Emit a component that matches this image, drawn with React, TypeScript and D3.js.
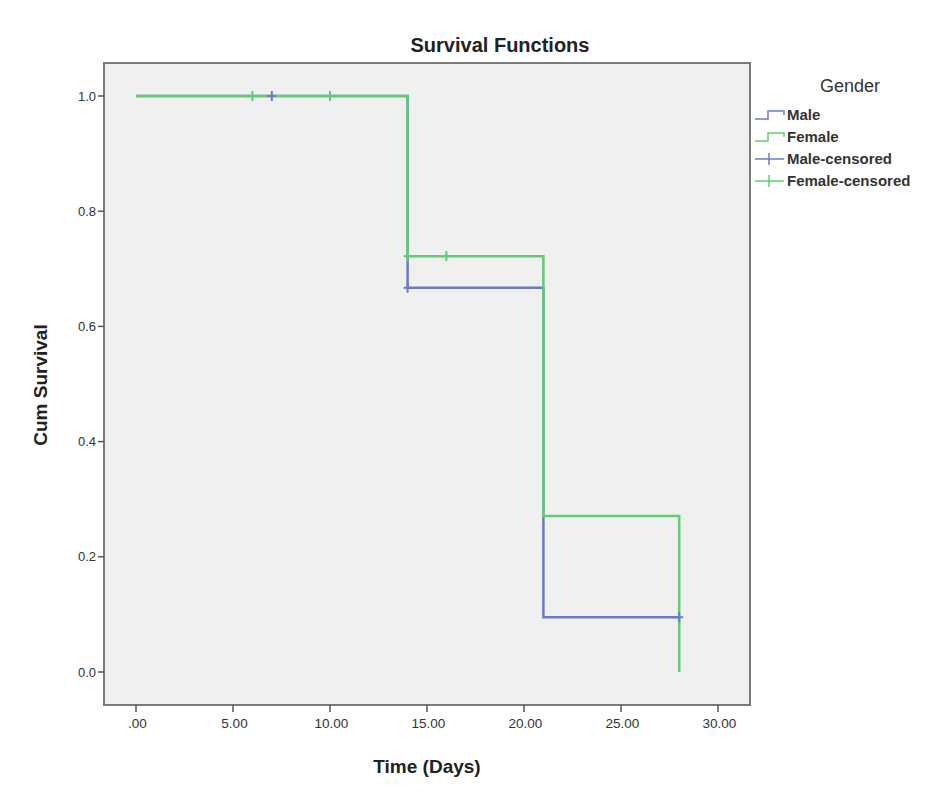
import * as d3 from "d3"

// Kaplan-Meier steps: [time, survival after that time]
const maleSteps: [number, number][] = [
  [0, 1.0],
  [14, 0.667],
  [21, 0.095],
  [28, 0.095],
]
const femaleSteps: [number, number][] = [
  [0, 1.0],
  [14, 0.722],
  [21, 0.271],
  [28, 0.0],
]
const maleCensored: [number, number][] = [
  [7, 1.0],
  [14, 0.667],
  [28, 0.095],
]
const femaleCensored: [number, number][] = [
  [6, 1.0],
  [10, 1.0],
  [14, 0.722],
  [16, 0.722],
]
const xTicks = [0, 5, 10, 15, 20, 25, 30]
const yTicks = [0, 0.2, 0.4, 0.6, 0.8, 1.0]
const legendItems = ["Male", "Female", "Male-censored", "Female-censored"]

const MALE = "#6a7bc9"
const FEMALE = "#62cc74"
const FONT = "'Liberation Sans', Arial, sans-serif"

const frame = { left: 104, top: 63, right: 750, bottom: 705 }

const x = d3.scaleLinear().domain([0, 30]).range([136, 718])
const y = d3.scaleLinear().domain([0, 1]).range([672, 96])

function stepPath(steps: [number, number][]) {
  const line = d3
    .line<[number, number]>()
    .x((d) => x(d[0]))
    .y((d) => y(d[1]))
    .curve(d3.curveStepAfter)
  return line(steps) ?? ""
}

function fmtX(v: number) {
  const s = v.toFixed(2)
  return v === 0 ? ".00" : s
}

function CensorMarks({ pts, color }: { pts: [number, number][]; color: string }) {
  return (
    <g stroke={color} strokeWidth={2}>
      {pts.map((p, i) => (
        <g key={i}>
          <line x1={x(p[0])} x2={x(p[0])} y1={y(p[1]) - 5} y2={y(p[1]) + 5} />
          <line x1={x(p[0]) - 4} x2={x(p[0]) + 4} y1={y(p[1])} y2={y(p[1])} />
        </g>
      ))}
    </g>
  )
}

export default function App() {
  const legendY = d3.scaleBand().domain(legendItems).range([104, 192])
  return (
    <svg
      width={935}
      height={805}
      style={{ position: "absolute", left: 0, top: 0, background: "#fff" }}
    >
      <text
        x={500}
        y={52}
        textAnchor="middle"
        fontFamily={FONT}
        fontWeight="bold"
        fontSize={20}
        fill="#222"
      >
        Survival Functions
      </text>

      <rect
        x={frame.left}
        y={frame.top}
        width={frame.right - frame.left}
        height={frame.bottom - frame.top}
        fill="#f0f0f0"
        stroke="#7a7a7a"
        strokeWidth={2}
      />

      {/* y axis */}
      <g fontFamily={FONT} fontSize={13} fill="#333">
        {yTicks.map((t) => (
          <g key={t}>
            <line x1={frame.left - 6} x2={frame.left} y1={y(t)} y2={y(t)} stroke="#555" strokeWidth={1.5} />
            <text x={frame.left - 8} y={y(t) + 4.5} textAnchor="end">
              {t.toFixed(1)}
            </text>
          </g>
        ))}
      </g>
      {/* x axis */}
      <g fontFamily={FONT} fontSize={13.5} fill="#333">
        {xTicks.map((t) => (
          <g key={t}>
            <line x1={x(t)} x2={x(t)} y1={frame.bottom} y2={frame.bottom + 7} stroke="#555" strokeWidth={1.5} />
            <text x={x(t) + 1.5} y={frame.bottom + 23} textAnchor="middle">
              {fmtX(t)}
            </text>
          </g>
        ))}
      </g>

      <text
        x={427}
        y={773}
        textAnchor="middle"
        fontFamily={FONT}
        fontWeight="bold"
        fontSize={19}
        fill="#222"
      >
        Time (Days)
      </text>
      <text
        transform={`translate(47,385) rotate(-90)`}
        textAnchor="middle"
        fontFamily={FONT}
        fontWeight="bold"
        fontSize={19}
        fill="#222"
      >
        Cum Survival
      </text>

      <path d={stepPath(maleSteps)} fill="none" stroke={MALE} strokeWidth={2.5} />
      <path d={stepPath(femaleSteps)} fill="none" stroke={FEMALE} strokeWidth={2.5} />
      <CensorMarks pts={maleCensored} color={MALE} />
      <CensorMarks pts={femaleCensored} color={FEMALE} />

      {/* legend */}
      <text x={850} y={92} textAnchor="middle" fontFamily={FONT} fontSize={18} fill="#333">
        Gender
      </text>
      {legendItems.map((name, i) => {
        const cy = (legendY(name) ?? 0) + legendY.bandwidth() / 2
        const color = i % 2 === 0 ? MALE : FEMALE
        return (
          <g key={name}>
            {i < 2 ? (
              <path
                d={`M755,${cy + 4}H768V${cy - 4}H784V${cy}`}
                fill="none"
                stroke={color}
                strokeWidth={1.5}
              />
            ) : (
              <g stroke={color} strokeWidth={1.5}>
                <line x1={755} x2={784} y1={cy} y2={cy} />
                <line x1={769} x2={769} y1={cy - 6} y2={cy + 6} />
              </g>
            )}
            <text x={787} y={cy + 5} fontFamily={FONT} fontSize={15} fontWeight="bold" fill="#333">
              {name}
            </text>
          </g>
        )
      })}
    </svg>
  )
}
